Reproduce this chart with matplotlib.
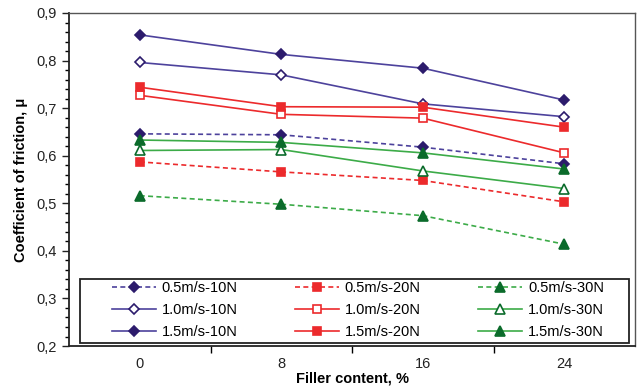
import matplotlib.pyplot as plt
from matplotlib.ticker import MultipleLocator, FuncFormatter
from matplotlib.patches import Rectangle

plt.rcParams['font.family'] = ['Liberation Sans', 'DejaVu Sans']

filler = ['0', '8', '16', '24']

v05_10 = [0.646, 0.644, 0.618, 0.583]
v05_20 = [0.587, 0.566, 0.548, 0.503]
v05_30 = [0.516, 0.498, 0.474, 0.414]
v10_10 = [0.796, 0.770, 0.709, 0.682]
v10_20 = [0.727, 0.687, 0.679, 0.606]
v10_30 = [0.611, 0.613, 0.568, 0.531]
v15_10 = [0.854, 0.813, 0.784, 0.717]
v15_20 = [0.744, 0.703, 0.702, 0.660]
v15_30 = [0.633, 0.628, 0.606, 0.572]

navy_line = '#4d429c'
navy_mk = '#2c1b6c'
red = '#ec2a2c'
green_line = '#3cab48'
green_mk = '#0b6b2b'

fig = plt.figure(figsize=(6.37, 3.88), dpi=100)
ax = fig.add_axes([0.1083, 0.1082, 0.8887, 0.8583])
x = range(len(filler))

# column-major order so the legend reads row by row like the original
series = [
    (v05_10, '0.5m/s-10N', navy_line, navy_mk, 'D', True, '--', 5.5),
    (v10_10, '1.0m/s-10N', navy_line, navy_mk, 'D', False, '-', 5.5),
    (v15_10, '1.5m/s-10N', navy_line, navy_mk, 'D', True, '-', 5.5),
    (v05_20, '0.5m/s-20N', red, red, 's', True, '--', 6),
    (v10_20, '1.0m/s-20N', red, red, 's', False, '-', 6),
    (v15_20, '1.5m/s-20N', red, red, 's', True, '-', 6),
    (v05_30, '0.5m/s-30N', green_line, green_mk, '^', True, '--', 7),
    (v10_30, '1.0m/s-30N', green_line, green_mk, '^', False, '-', 7),
    (v15_30, '1.5m/s-30N', green_line, green_mk, '^', True, '-', 7),
]
for vals, lab, lc, mc, mk, filled, ls, ms in series:
    ax.plot(x, vals, color=lc, linestyle=ls, linewidth=1.2, marker=mk,
            markersize=ms, markerfacecolor=mc if filled else 'white',
            markeredgecolor=mc, markeredgewidth=1.2, label=lab,
            dashes=(3, 2) if ls == '--' else (None, None))

ax.set_xlim(-0.5, 3.5)
ax.set_ylim(0.2, 0.9)
ax.set_xticks(list(x))
ax.set_xticklabels(filler)
ax.set_xticks([0.5, 1.5, 2.5], minor=True)
ax.tick_params(axis='x', which='major', length=0, pad=8, labelsize=10.5)
ax.tick_params(axis='x', which='minor', length=5, direction='out', width=1)
ax.yaxis.set_major_locator(MultipleLocator(0.1))
ax.yaxis.set_minor_locator(MultipleLocator(0.02))
ax.yaxis.set_major_formatter(FuncFormatter(lambda v, p: f'{v:.1f}'.replace('.', ',')))
ax.tick_params(axis='y', which='major', length=5, direction='out', width=1, labelsize=10.5)
ax.tick_params(axis='y', which='minor', length=3, direction='out', width=1)
ax.tick_params(colors='#222222', labelcolor='#222222')

for s in ['left', 'bottom']:
    ax.spines[s].set_linewidth(1.3)
    ax.spines[s].set_color('#222222')
for s in ['top', 'right']:
    ax.spines[s].set_linewidth(1.0)
    ax.spines[s].set_color('#555555')

ax.set_ylabel('Coefficient of friction, μ', fontsize=10.5, fontweight='bold', labelpad=6)
ax.set_xlabel('Filler content, %', fontsize=10.5, fontweight='bold', labelpad=0)

# legend without its own frame, box drawn separately (wide side padding)
leg = ax.legend(ncol=3, loc='center left', bbox_to_anchor=(0.076, 0.108),
                fontsize=10.5, handlelength=3.0, frameon=False,
                borderaxespad=0, labelspacing=0.52, handletextpad=0.4,
                columnspacing=3.95, borderpad=0)
ax.add_patch(Rectangle((0.0194, 0.009), 0.9696, 0.192, transform=ax.transAxes,
                       facecolor='white', edgecolor='#222222', linewidth=1.3,
                       zorder=4))
leg.set_zorder(5)

fig.savefig('out.png', dpi=100)
